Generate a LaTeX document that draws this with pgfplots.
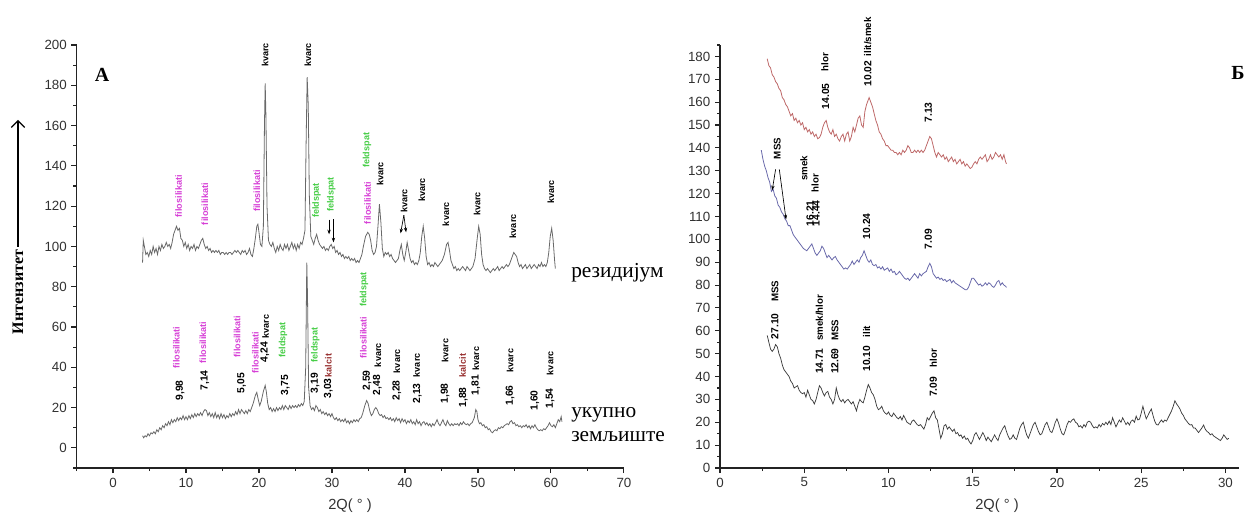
\documentclass[border=0pt]{standalone}
\usepackage{fontspec}
\setmainfont{Liberation Sans}
\newfontfamily\tnr{Liberation Serif}
\usepackage{pgfplots}
\pgfplotsset{compat=1.18}
\usetikzlibrary{arrows.meta}

\definecolor{filo}{RGB}{214,64,214}
\definecolor{feld}{RGB}{70,205,70}
\definecolor{kalc}{RGB}{150,45,45}
\definecolor{curveA}{RGB}{105,105,105}
\definecolor{redc}{RGB}{190,105,105}
\definecolor{bluec}{RGB}{105,105,170}
\definecolor{blackc}{RGB}{60,60,60}
\definecolor{axc}{RGB}{35,35,35}
\definecolor{tickc}{RGB}{50,50,50}

\tikzset{
  lab/.style={rotate=90, anchor=west, inner sep=0pt, font=\fontsize{6.8}{8}\selectfont\bfseries},
  num/.style={rotate=90, anchor=west, inner sep=0pt, font=\fontsize{7.7}{9}\selectfont\bfseries},
  rlab/.style={rotate=90, anchor=west, inner sep=0pt, font=\fontsize{7.3}{9}\selectfont\bfseries},
  pk/.style={-{Stealth[length=3.5pt,width=2.5pt]}, line width=0.5pt, black},
}

\pgfplotsset{
  xrd/.style={
    scale only axis,
    axis lines*=left,
    xtick pos=left, ytick pos=left,
    tick align=outside,
    major tick length=3.75pt,
    minor tick length=2.25pt,
    axis line style={axc, line width=0.9pt},
    every tick/.style={axc, line width=0.8pt},
    tick label style={font=\fontsize{10}{12}\selectfont, text=tickc},
    /pgf/number format/assume math mode=true,
    clip=false,
  },
}

\begin{document}
\begin{tikzpicture}[x=0.75pt, y=0.75pt]
\path[use as bounding box] (0,0) rectangle (1258,515);

% ---------------- panel A ----------------
\begin{axis}[xrd,
  at={(57.375pt,35.25pt)}, anchor=south west,
  width=410.6pt, height=317.25pt,
  xmin=-5, xmax=70, ymin=-10, ymax=200,
  xtick={0,10,...,70}, minor xtick={-5,5,...,65},
  ytick={0,20,...,200}, minor ytick={-10,10,...,190},
]
% residue
\addplot[curveA, line width=0.6pt] coordinates {
(4.05,92)(4.15,103)(4.3,100)(4.5,96)(4.7,97)(4.9,95)(5.1,98)(5.3,96)(5.5,100)(5.7,97)(5.9,99)(6.1,96)(6.3,100)(6.5,98)(6.7,101)(6.9,99)(7.1,100)(7.3,102)(7.5,100)(7.7,101)(7.9,99)(8.1,102)(8.3,106)(8.5,108)(8.7,110)(8.9,108)(9.1,109)(9.3,104)(9.5,103)(9.7,100)(9.9,102)(10.1,99)(10.3,101)(10.5,98)(10.7,100)(10.9,99)(11.1,101)(11.3,98)(11.5,100)(11.7,99)(11.9,101)(12.1,103)(12.3,104)(12.5,101)(12.7,99)(12.9,100)(13.1,98)(13.3,99)(13.5,97)(13.7,98)(13.9,97)(14.1,98)(14.3,97)(14.5,98)(14.7,96)(14.9,97)(15.1,97)(15.3,96)(15.5,97)(15.7,96)(15.9,97)(16.1,97)(16.3,96)(16.5,97)(16.7,98)(16.9,97)(17.1,98)(17.3,97)(17.5,96)(17.7,98)(17.9,97)(18.1,98)(18.3,96)(18.5,97)(18.7,99)(18.9,96)(19.1,95)(19.3,99)(19.5,104)(19.7,110)(19.85,111)(20.0,107)(20.2,101)(20.4,100)(20.6,110)(20.75,160)(20.85,181)(20.95,165)(21.1,120)(21.3,103)(21.5,101)(21.7,100)(21.9,102)(22.1,99)(22.3,97)(22.5,100)(22.7,98)(22.9,101)(23.1,99)(23.3,98)(23.5,101)(23.7,99)(23.9,101)(24.1,98)(24.3,100)(24.5,102)(24.7,99)(24.9,101)(25.1,98)(25.3,101)(25.5,99)(25.7,102)(25.9,101)(26.1,104)(26.3,108)(26.45,150)(26.6,184)(26.75,170)(26.9,125)(27.1,105)(27.3,103)(27.5,101)(27.7,104)(27.9,106)(28.1,103)(28.3,101)(28.5,100)(28.7,99)(28.9,100)(29.1,98)(29.3,99)(29.5,98)(29.7,100)(29.9,101)(30.1,99)(30.3,100)(30.5,97)(30.7,98)(30.9,96)(31.1,97)(31.3,95)(31.5,96)(31.7,94)(31.9,95)(32.1,94)(32.3,95)(32.5,93)(32.7,94)(32.9,93)(33.1,94)(33.3,92)(33.5,93)(33.7,92)(33.9,94)(34.1,96)(34.3,100)(34.6,105)(34.9,107)(35.1,106)(35.3,103)(35.5,98)(35.7,96)(35.9,97)(36.1,100)(36.3,110)(36.5,121)(36.7,112)(36.9,99)(37.1,95)(37.3,97)(37.5,96)(37.7,97)(37.9,95)(38.1,96)(38.3,94)(38.5,93)(38.7,92)(38.9,93)(39.1,94)(39.3,98)(39.5,101)(39.7,96)(39.9,93)(40.1,97)(40.3,102)(40.5,98)(40.7,94)(40.9,92)(41.1,93)(41.3,91)(41.5,92)(41.7,91)(41.9,93)(42.1,97)(42.3,105)(42.5,110)(42.7,104)(42.9,95)(43.1,91)(43.3,92)(43.5,90)(43.7,91)(43.9,90)(44.1,92)(44.3,91)(44.5,90)(44.7,91)(44.9,92)(45.1,93)(45.4,96)(45.7,101)(45.9,102)(46.1,98)(46.3,93)(46.5,91)(46.7,89)(46.9,90)(47.1,88)(47.3,89)(47.5,88)(47.7,89)(47.9,90)(48.1,89)(48.3,88)(48.5,90)(48.7,89)(48.9,88)(49.1,89)(49.3,90)(49.6,94)(49.9,104)(50.1,110)(50.3,106)(50.5,96)(50.7,91)(50.9,89)(51.1,88)(51.3,89)(51.5,88)(51.7,87)(51.9,88)(52.1,89)(52.3,88)(52.5,89)(52.7,90)(52.9,88)(53.1,89)(53.3,90)(53.5,89)(53.7,90)(53.9,91)(54.1,90)(54.3,91)(54.6,94)(54.9,97)(55.1,96)(55.3,95)(55.5,92)(55.7,90)(55.9,91)(56.1,89)(56.3,90)(56.5,91)(56.7,89)(56.9,90)(57.1,91)(57.3,89)(57.5,90)(57.7,91)(57.9,90)(58.1,89)(58.3,91)(58.5,90)(58.7,92)(58.9,90)(59.1,91)(59.3,90)(59.5,92)(59.7,97)(59.9,105)(60.1,109)(60.3,103)(60.5,93)(60.6,89)
};
% whole soil
\addplot[curveA, line width=0.6pt] coordinates {
(4.05,6)(4.2,5)(4.4,6)(4.6,5.5)(4.8,7)(5.0,6)(5.2,7.5)(5.4,7)(5.6,8)(5.8,7)(6.0,9)(6.2,8)(6.4,10)(6.6,9)(6.8,11)(7.0,10)(7.2,12)(7.4,11)(7.6,13)(7.8,11.5)(8.0,14)(8.2,12.5)(8.4,14)(8.6,13)(8.8,15)(9.0,13.5)(9.2,15)(9.4,14)(9.6,16)(9.8,14)(10.0,15.5)(10.2,14)(10.4,16)(10.6,14.5)(10.8,16.5)(11.0,15)(11.2,17)(11.4,15.5)(11.6,17)(11.8,16)(12.0,17.5)(12.2,16)(12.4,18)(12.6,19)(12.8,18.5)(13.0,16)(13.2,17.5)(13.4,15.5)(13.6,17)(13.8,15)(14.0,17.5)(14.2,15)(14.4,16.5)(14.6,14.5)(14.8,17)(15.0,15)(15.2,16.5)(15.4,14.5)(15.6,16)(15.8,15)(16.0,17)(16.2,15.5)(16.4,17)(16.6,16)(16.8,18)(17.0,16.5)(17.2,19)(17.4,17)(17.6,19)(17.8,18)(18.0,17)(18.2,18.5)(18.4,17)(18.6,19)(18.8,18)(19.0,20)(19.2,22)(19.5,26)(19.7,27.5)(19.9,24)(20.1,21)(20.3,23)(20.6,28)(20.85,31)(21.0,28)(21.2,22)(21.4,19)(21.6,20)(21.8,18)(22.0,19.5)(22.2,18)(22.4,20)(22.6,18.5)(22.8,20)(23.0,19)(23.2,21)(23.4,19)(23.6,21)(23.8,20)(24.0,19)(24.2,21)(24.4,19.5)(24.6,21)(24.8,20)(25.0,21)(25.2,20)(25.4,21.5)(25.6,20.5)(25.8,22)(26.0,21)(26.2,23)(26.4,40)(26.55,92)(26.65,75)(26.8,30)(27.0,21)(27.2,19)(27.4,20)(27.6,18.5)(27.8,21)(28.0,20)(28.2,18)(28.4,19)(28.6,17)(28.8,18)(29.0,16.5)(29.2,17.5)(29.4,16)(29.6,17)(29.8,15.5)(30.0,17)(30.2,15)(30.4,14)(30.6,15)(30.8,13.5)(31.0,14.5)(31.2,13)(31.4,14)(31.6,13)(31.8,14.5)(32.0,12.5)(32.2,13.5)(32.4,12)(32.6,13.5)(32.8,12.5)(33.0,14)(33.2,13)(33.4,14)(33.6,13)(33.8,14.5)(34.0,15)(34.2,17)(34.5,21)(34.75,23.5)(34.95,22)(35.2,18)(35.4,16)(35.6,17)(35.8,19)(36.0,20)(36.2,19)(36.4,17)(36.6,16)(36.8,16.5)(37.0,15)(37.2,16)(37.4,14.5)(37.6,15)(37.8,14)(38.0,15)(38.2,13.5)(38.4,14.5)(38.6,13)(38.8,15)(39.0,13.5)(39.2,14.5)(39.4,12.5)(39.6,14.5)(39.8,13)(40.0,14)(40.2,12)(40.4,13.5)(40.6,12.5)(40.8,14)(41.0,12)(41.2,13)(41.4,11.5)(41.6,14)(41.8,12)(42.0,13)(42.2,11)(42.4,12.5)(42.6,13)(42.8,11.5)(43.0,12.5)(43.2,11)(43.4,12)(43.6,10.5)(43.8,12)(44.0,11)(44.2,12.5)(44.4,14)(44.6,12)(44.8,11)(45.0,12.5)(45.2,14)(45.4,12)(45.6,11)(45.8,13.5)(46.0,12)(46.2,11)(46.4,12)(46.6,11)(46.8,12)(47.0,11.5)(47.2,12)(47.4,11)(47.6,12.5)(47.8,11.5)(48.0,13)(48.2,12)(48.4,11.5)(48.6,12)(48.8,11)(49.0,12)(49.2,12.5)(49.5,15)(49.7,19)(49.85,18)(50.0,14)(50.2,12)(50.4,12.5)(50.6,11)(50.8,11.5)(51.0,10)(51.2,10.5)(51.4,9)(51.6,9.5)(51.8,8)(52.0,7.5)(52.2,8.5)(52.4,9)(52.6,8.5)(52.8,10)(53.0,9.5)(53.2,10.5)(53.4,10)(53.6,11)(53.8,11.5)(54.0,12)(54.2,11.5)(54.4,13)(54.6,13.5)(54.8,12)(55.0,12.5)(55.2,11)(55.4,11.5)(55.6,10.5)(55.8,11)(56.0,10)(56.2,11)(56.4,10.5)(56.6,11.5)(56.8,10)(57.0,11)(57.2,9.5)(57.4,11)(57.6,10)(57.8,11.5)(58.0,10)(58.2,9)(58.4,8.5)(58.6,9)(58.8,8.5)(59.0,9.5)(59.2,9)(59.4,10)(59.6,11)(59.8,12.5)(60.0,11)(60.2,10.5)(60.4,11.5)(60.6,10)(60.8,12)(61.0,14)(61.2,13)(61.4,15.5)(61.5,13)
};

% peak labels, residue
\node[lab] at (axis cs:20.85,189) {kvarc};
\node[lab] at (axis cs:26.7,189) {kvarc};
\node[lab, text=filo] at (axis cs:9.0,114.4) {filosilikati};
\node[lab, text=filo] at (axis cs:12.6,110.5) {filosilikati};
\node[lab, text=filo] at (axis cs:19.7,117) {filosilikati};
\node[lab, text=feld] at (axis cs:27.9,114) {feldspat};
\node[lab, text=feld] at (axis cs:29.9,117) {feldspat};
\draw[pk] (axis cs:29.6,113.3) -- (axis cs:29.6,106);
\draw[pk] (axis cs:30.2,113.4) -- (axis cs:30.2,102);
\node[lab, text=feld] at (axis cs:34.8,139) {feldspat};
\node[lab, text=filo] at (axis cs:34.9,111) {filosilikati};
\node[lab] at (axis cs:36.6,130) {kvarc};
\node[lab] at (axis cs:39.9,116.5) {kvarc};
\draw[pk] (axis cs:39.85,115.5) -- (axis cs:39.4,106.5);
\draw[pk] (axis cs:39.85,115.5) -- (axis cs:40.15,107);
\node[lab] at (axis cs:42.3,122) {kvarc};
\node[lab] at (axis cs:45.6,110) {kvarc};
\node[lab] at (axis cs:49.9,115) {kvarc};
\node[lab] at (axis cs:54.8,104) {kvarc};
\node[lab] at (axis cs:60.0,121) {kvarc};

% peak labels, whole soil
\node[lab, text=filo] at (axis cs:8.7,39.3) {filosilikati};
\node[num] at (axis cs:9.2,23.4) {9,98};
\node[lab, text=filo] at (axis cs:12.3,41.8) {filosilikati};
\node[num] at (axis cs:12.6,28.4) {7,14};
\node[lab, text=filo] at (axis cs:17.0,44.8) {filosilikati};
\node[num] at (axis cs:17.6,27) {5,05};
\node[lab, text=filo] at (axis cs:19.5,36.8) {filosilikati};
\node[num] at (axis cs:20.8,42.4) {4,24};
\node[lab] at (axis cs:20.9,54.2) {kvarc};
\node[lab, text=feld] at (axis cs:23.3,44.8) {feldspat};
\node[num] at (axis cs:23.6,26) {3,75};
\node[lab, text=feld] at (axis cs:27.7,42.3) {feldspat};
\node[num] at (axis cs:27.7,27) {3,19};
\node[lab, text=kalc] at (axis cs:29.5,35) {kalcit};
\node[num] at (axis cs:29.5,24.4) {3,03};
\node[lab, text=feld] at (axis cs:34.4,69.8) {feldspat};
\node[lab, text=filo] at (axis cs:34.3,44.3) {filosilikati};
\node[num] at (axis cs:34.8,28.4) {2,59};
\node[lab] at (axis cs:36.3,40) {kvarc};
\node[num] at (axis cs:36.2,26) {2,48};
\node[lab] at (axis cs:38.9,37) {kvarc};
\node[num] at (axis cs:38.9,23.4) {2,28};
\node[lab] at (axis cs:41.6,35) {kvarc};
\node[num] at (axis cs:41.7,22) {2,13};
\node[lab] at (axis cs:45.5,42.3) {kvarc};
\node[num] at (axis cs:45.5,22) {1,98};
\node[lab, text=kalc] at (axis cs:47.9,35) {kalcit};
\node[num] at (axis cs:48.0,20) {1,88};
\node[lab] at (axis cs:49.7,38.3) {kvarc};
\node[num] at (axis cs:49.7,26) {1,81};
\node[lab] at (axis cs:54.4,37.3) {kvarc};
\node[num] at (axis cs:54.4,21) {1,66};
\node[num] at (axis cs:57.8,18.4) {1,60};
\node[lab] at (axis cs:59.9,36) {kvarc};
\node[num] at (axis cs:59.9,19.4) {1,54};
\end{axis}

% ---------------- panel B ----------------
\begin{axis}[xrd,
  at={(540pt,35.25pt)}, anchor=south west,
  width=389.2pt, height=317.25pt,
  xmin=0, xmax=30.8, ymin=0, ymax=185,
  xtick={0,5,...,30}, minor xtick={2.5,7.5,...,27.5},
  ytick={0,10,...,180}, minor ytick={5,15,...,185},
]
\addplot[redc, line width=0.6pt] coordinates {
(2.8,179)(2.9,176)(3.0,175)(3.1,172)(3.2,171)(3.3,169)(3.4,168)(3.5,166)(3.6,165)(3.7,162)(3.8,161)(3.9,159)(4.0,158)(4.1,156)(4.2,154)(4.3,155)(4.4,152)(4.5,153)(4.6,151)(4.7,152)(4.8,150)(4.9,151)(5.0,148)(5.1,149)(5.2,147)(5.3,148)(5.4,146)(5.5,147)(5.6,145)(5.7,146)(5.8,144)(5.9,144.5)(6.0,146)(6.1,149)(6.2,151)(6.3,152)(6.4,149)(6.5,147)(6.6,146)(6.7,148)(6.8,145)(6.9,146)(7.0,144)(7.1,143)(7.2,145)(7.3,146)(7.4,143)(7.5,146)(7.6,147)(7.7,143)(7.8,145)(7.9,149)(8.0,147)(8.1,150)(8.2,153)(8.3,154)(8.4,150)(8.5,149)(8.6,156)(8.7,159)(8.8,161)(8.85,162)(8.95,160)(9.05,158)(9.15,155)(9.25,152)(9.35,150)(9.45,147)(9.55,146)(9.65,144)(9.75,143)(9.85,141)(9.95,141)(10.05,140)(10.15,139)(10.25,139)(10.35,138)(10.45,138)(10.55,137)(10.65,138)(10.75,137)(10.85,139)(10.95,138)(11.05,139)(11.15,141)(11.25,140)(11.35,138)(11.45,138)(11.55,139)(11.65,138)(11.75,139)(11.85,138)(11.95,139)(12.05,138)(12.15,139)(12.25,141)(12.35,143)(12.45,145)(12.55,144)(12.65,141)(12.75,138)(12.85,136)(12.95,138)(13.05,137)(13.15,136)(13.25,137)(13.35,135)(13.45,136)(13.55,134)(13.65,135)(13.75,136)(13.85,134)(13.95,135)(14.05,133)(14.15,134)(14.25,135)(14.35,133)(14.45,134)(14.55,132)(14.65,133)(14.75,132)(14.85,131)(14.95,131.5)(15.05,133)(15.15,134)(15.25,133)(15.35,135)(15.45,136)(15.55,135)(15.65,136)(15.75,137)(15.85,134)(15.95,135)(16.05,137)(16.15,135)(16.25,136)(16.35,138)(16.45,137)(16.55,136)(16.65,137)(16.75,135)(16.85,137)(16.95,134)(17.0,133)
};
\addplot[bluec, line width=0.6pt] coordinates {
(2.45,139)(2.55,135)(2.65,132)(2.75,130)(2.85,127)(2.95,125)(3.05,121)(3.15,122)(3.25,119)(3.35,118)(3.45,115)(3.55,114)(3.65,112)(3.75,111)(3.85,109)(3.95,108)(4.05,106)(4.15,106)(4.25,104)(4.35,102)(4.45,101)(4.55,100)(4.65,99)(4.75,98)(4.85,97)(4.95,96)(5.05,95.5)(5.15,95)(5.25,96)(5.35,97)(5.45,98)(5.55,96)(5.65,94)(5.75,93)(5.85,94)(5.95,95)(6.05,97)(6.15,96)(6.25,94)(6.35,92)(6.45,93)(6.55,92)(6.65,91)(6.75,92)(6.85,92.5)(6.95,91)(7.05,90)(7.15,89)(7.25,88)(7.35,87)(7.45,87.5)(7.55,87)(7.65,88)(7.75,89)(7.85,90.5)(7.95,89)(8.05,90)(8.15,91)(8.25,90)(8.35,92)(8.45,93)(8.55,95)(8.65,93)(8.75,91)(8.85,90)(8.95,91)(9.05,89)(9.15,88.5)(9.25,89)(9.35,87.5)(9.45,88)(9.55,87)(9.65,88)(9.75,86.5)(9.85,87)(9.95,87.5)(10.05,86)(10.15,87)(10.25,85.5)(10.35,86)(10.45,84.5)(10.55,85)(10.65,86)(10.75,85)(10.85,84)(10.95,83)(11.05,82.5)(11.15,83)(11.25,82)(11.35,83)(11.45,84)(11.55,85)(11.65,84)(11.75,83)(11.85,85)(11.95,84)(12.05,85)(12.15,85.5)(12.25,86)(12.35,88)(12.45,89.5)(12.55,88)(12.65,85)(12.75,84)(12.85,83)(12.95,83.5)(13.05,82.5)(13.15,83)(13.25,82)(13.35,82.5)(13.45,81.5)(13.55,82)(13.65,82.5)(13.75,81)(13.85,82)(13.95,81)(14.05,80.5)(14.15,80)(14.25,79.5)(14.35,79)(14.45,78.5)(14.55,78)(14.65,78)(14.75,79)(14.85,81)(14.95,83)(15.05,83)(15.15,82)(15.25,81)(15.35,80)(15.45,80.5)(15.55,79.5)(15.65,80)(15.75,81)(15.85,80)(15.95,81)(16.05,80.5)(16.15,79.5)(16.25,79)(16.35,80)(16.45,81.5)(16.55,82)(16.65,80)(16.75,81)(16.85,80)(16.95,79.5)(17.0,79)
};
\addplot[blackc, line width=0.55pt] coordinates {
(2.8,58)(2.9,55)(3.0,52)(3.1,51)(3.2,52)(3.3,54)(3.4,53)(3.5,50)(3.6,48)(3.7,45)(3.8,43)(3.9,42)(4.0,41)(4.1,40)(4.2,38)(4.3,37)(4.4,35)(4.5,35.5)(4.6,36)(4.7,34)(4.8,33)(4.9,32.5)(5.0,33)(5.1,31)(5.2,34)(5.3,32)(5.4,30)(5.5,29.5)(5.6,28)(5.7,30)(5.8,33)(5.9,36)(6.0,35)(6.1,33)(6.2,31.5)(6.3,33)(6.4,33.5)(6.5,31)(6.6,30)(6.7,28)(6.8,30)(6.9,35)(7.0,32)(7.1,30)(7.2,29)(7.3,30)(7.4,28.5)(7.5,29.5)(7.6,30)(7.7,29)(7.8,28)(7.9,29)(8.0,27)(8.1,25)(8.2,28)(8.3,30)(8.4,29)(8.5,28.5)(8.6,31)(8.7,34)(8.8,36.5)(8.9,35)(9.0,33)(9.1,32)(9.2,30)(9.3,27)(9.4,25.5)(9.5,26)(9.6,27)(9.7,25)(9.8,24)(9.9,23.5)(10.0,24.5)(10.1,23)(10.2,22.5)(10.3,24)(10.4,23)(10.5,22)(10.6,21.5)(10.7,22.5)(10.8,21)(10.9,23)(11.0,21.5)(11.1,20)(11.2,19.5)(11.3,19)(11.4,20.5)(11.5,21)(11.6,20)(11.7,19)(11.8,18.5)(11.9,19)(12.0,18)(12.1,17)(12.2,19)(12.3,22)(12.4,21)(12.5,22.5)(12.6,24)(12.7,25)(12.8,22)(12.9,21)(13.0,17)(13.1,13)(13.2,15)(13.3,18.5)(13.4,19)(13.5,17)(13.6,18)(13.7,17)(13.8,16)(13.9,17)(14.0,15)(14.1,15.5)(14.2,14)(14.3,14.5)(14.4,13)(14.5,14)(14.6,12.5)(14.7,13)(14.8,11.5)(14.9,10.5)(15.0,12)(15.1,14.5)(15.2,15.5)(15.3,14)(15.4,12.5)(15.5,14)(15.6,15.5)(15.7,14)(15.8,12)(15.9,13.5)(16.0,12.5)(16.1,11.5)(16.2,13)(16.3,14.5)(16.4,13)(16.5,12)(16.6,14.5)(16.7,16)(16.8,17.5)(16.9,18.5)(17.0,16)(17.1,14)(17.2,12.5)(17.3,13)(17.4,14.5)(17.5,13)(17.6,12.5)(17.7,15)(17.8,17.5)(17.9,19)(18.0,20)(18.1,17)(18.2,14.5)(18.3,13)(18.4,15)(18.5,17)(18.6,19)(18.7,20)(18.8,18)(18.9,16)(19.0,14.5)(19.1,15)(19.2,17)(19.3,19)(19.4,20)(19.5,18)(19.6,16)(19.7,15.5)(19.8,17.5)(19.9,20)(20.0,21.5)(20.1,19.5)(20.2,17)(20.3,15)(20.4,14.5)(20.5,16.5)(20.6,19)(20.7,20.5)(20.8,20)(20.9,21)(21.0,21.5)(21.1,20)(21.2,19.5)(21.3,18)(21.4,18.5)(21.5,17.5)(21.6,19)(21.7,18)(21.8,20)(21.9,20.5)(22.0,20)(22.1,18.5)(22.2,17.5)(22.3,18)(22.4,17.5)(22.5,19)(22.6,18)(22.7,19.5)(22.8,18.8)(22.9,20)(23.0,19)(23.1,20.5)(23.2,19)(23.3,22)(23.4,20)(23.5,18)(23.6,19.5)(23.7,21)(23.8,20)(23.9,22)(24.0,20.5)(24.1,19)(24.2,20)(24.3,18.8)(24.4,20.5)(24.5,21)(24.6,20)(24.7,22.7)(24.8,21)(24.9,21.4)(25.0,24)(25.1,27)(25.2,24)(25.3,21.5)(25.4,23)(25.5,24.5)(25.6,25.8)(25.7,23)(25.8,20.5)(25.9,19)(26.0,18.8)(26.1,20)(26.2,21)(26.3,20)(26.4,21)(26.5,20.5)(26.6,22)(26.7,23.5)(26.8,25)(26.9,27)(27.0,29.4)(27.1,28)(27.2,27)(27.3,25.8)(27.4,24)(27.5,23)(27.6,21.4)(27.7,20.5)(27.8,19.5)(27.9,18.8)(28.0,19)(28.1,17.5)(28.2,17.5)(28.3,16.5)(28.4,15.5)(28.5,16.5)(28.6,17.5)(28.7,18.8)(28.8,17)(28.9,16)(29.0,15.5)(29.1,14.5)(29.2,15)(29.3,14)(29.4,13.5)(29.5,13)(29.6,12.5)(29.7,12)(29.8,13)(29.9,14.5)(30.0,13.5)(30.1,12.5)(30.2,13)
};

% upper trace labels
\node[rlab] at (axis cs:6.23,173.4) {hlor};
\node[num] at (axis cs:6.27,156.8) {14.05};
\node[rlab] at (axis cs:8.77,180) {ilit/smek};
\node[num] at (axis cs:8.77,166.8) {10.02};
\node[num] at (axis cs:12.36,151) {7.13};
% middle trace labels
\node[rlab] at (axis cs:3.4,135) {MSS};
\draw[pk] (axis cs:3.3,130.6) -- (axis cs:3.1,121.5);
\draw[pk] (axis cs:3.52,130.6) -- (axis cs:3.92,108.7);
\node[rlab] at (axis cs:4.98,125.5) {smek};
\node[rlab] at (axis cs:5.64,120.5) {hlor};
\node[num] at (axis cs:5.34,105.7) {16.21};
\node[num] at (axis cs:5.7,105.7) {14.44};
\node[num] at (axis cs:8.7,100) {10.24};
\node[num] at (axis cs:12.36,95.6) {7.09};
% lower trace labels
\node[rlab] at (axis cs:3.26,72.5) {MSS};
\node[num] at (axis cs:3.26,56.3) {27.10};
\node[rlab] at (axis cs:5.9,55.5) {smek/hlor};
\node[num] at (axis cs:5.9,41) {14.71};
\node[rlab] at (axis cs:6.82,55.5) {MSS};
\node[num] at (axis cs:6.82,41) {12.69};
\node[rlab] at (axis cs:8.7,57) {ilit};
\node[num] at (axis cs:8.7,42) {10.10};
\node[rlab] at (axis cs:12.66,44) {hlor};
\node[num] at (axis cs:12.66,31) {7.09};
\end{axis}

% axis titles and panel marks
\node[font=\fontsize{11}{13}\selectfont, text=tickc] at (350,9) {2Q( ° )};
\node[font=\fontsize{11}{13}\selectfont, text=tickc] at (997,9) {2Q( ° )};
\node[rotate=90, font=\tnr\fontsize{12}{14}\selectfont\bfseries] at (18,223) {Интензитет};
\draw[line width=0.8pt, -{Straight Barb[length=5pt,width=10pt]}] (18,268) -- (18,395);
\node[font=\tnr\fontsize{15}{17}\selectfont\bfseries] at (102,440) {А};
\node[font=\tnr\fontsize{15}{17}\selectfont\bfseries] at (1238,442) {Б};
\node[anchor=base west, inner sep=0pt, font=\tnr\fontsize{16}{18}\selectfont] at (571,237) {резидијум};
\node[anchor=base west, inner sep=0pt, font=\tnr\fontsize{16}{18}\selectfont] at (571,98) {укупно};
\node[anchor=base west, inner sep=0pt, font=\tnr\fontsize{16}{18}\selectfont] at (571,74) {земљиште};
\end{tikzpicture}
\end{document}
